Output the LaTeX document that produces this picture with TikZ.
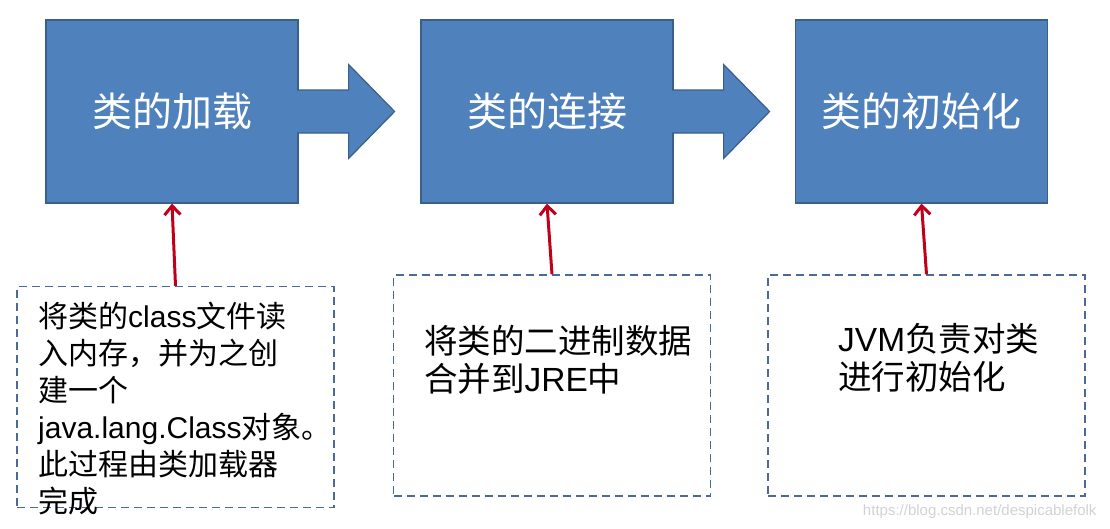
\documentclass[tikz,border=0pt]{standalone}
\usepackage{fontspec}
\setmainfont{Noto Sans CJK SC}
\newfontfamily\latinfont{Liberation Sans}
\newcommand{\lat}[1]{{\latinfont #1}}
\usetikzlibrary{arrows.meta, calc}
\definecolor{stageblue}{HTML}{4F81BD}
\definecolor{stageedge}{HTML}{3A5F8B}
\definecolor{feedred}{HTML}{C0001A}
\definecolor{noteedge}{HTML}{4A6B9A}

\begin{document}
\begin{tikzpicture}[x=1pt, y=-1pt,
    stage/.style={draw=stageedge, line width=1.2pt, fill=stageblue, minimum width=252pt,
      minimum height=183pt, text=white, font=\fontsize{40}{48}\selectfont},
    note/.style={draw=noteedge, line width=1.4pt, dash pattern=on 8pt off 5pt,
      minimum width=317pt, minimum height=221pt},
    notetext/.style={anchor=north west, inner sep=0pt, align=left,
      font=\fontsize{33.5}{38}\selectfont},
    feed/.style={feedred, line width=3pt, -{Straight Barb[length=9pt,width=16pt]}},
    blockarrow/.style={fill=stageblue, draw=stageedge, line width=1.2pt, line join=miter}]
    \useasboundingbox (0,0) rectangle (1110,528);

    % stages
    \node[stage] (load) at (172,111.5) {类的加载};
    \node[stage] (link) at (547,111.5) {类的连接};
    \node[stage] (init) at (921.5,111.5) {类的初始化};

    % block arrows between the stages
    \foreach \from in {load, link} {
      \path[blockarrow] ($(\from.east)+(-1.5,-21.5)$) -- ($(\from.east)+(50,-21.5)$)
        -- ($(\from.east)+(50,-47)$) -- ($(\from.east)+(96,0)$)
        -- ($(\from.east)+(50,47)$) -- ($(\from.east)+(50,21.5)$)
        -- ($(\from.east)+(-1.5,21.5)$);
    }

    % notes
    \node[note] (loadnote) at (175.5,397) {};
    \node[note] (linknote) at (552,385.5) {};
    \node[note] (initnote) at (926.5,385.5) {};

    \node[notetext, font=\fontsize{30}{37}\selectfont] (loadtext) at (38,302)
      {将类的\lat{class}文件读\\入内存，并为之创\\建一个\\\lat{java.lang.Class}对象。\\此过程由类加载器\\完成};
    \node[notetext] (linktext) at (424,325) {将类的二进制数据\\合并到\lat{JRE}中};
    \node[notetext] (inittext) at (838,323) {\lat{JVM}负责对类\\进行初始化};

    % notes point to stages
    \draw[feed] (loadnote.north) -- (load.south);
    \draw[feed] (linknote.north) -- (link.south);
    \draw[feed] (initnote.north) -- (init.south);

    \node[anchor=east, text=gray!35, font=\latinfont\fontsize{15}{18}\selectfont] (mark)
      at (1100,512) {https://blog.csdn.net/despicablefolk};
\end{tikzpicture}
\end{document}
